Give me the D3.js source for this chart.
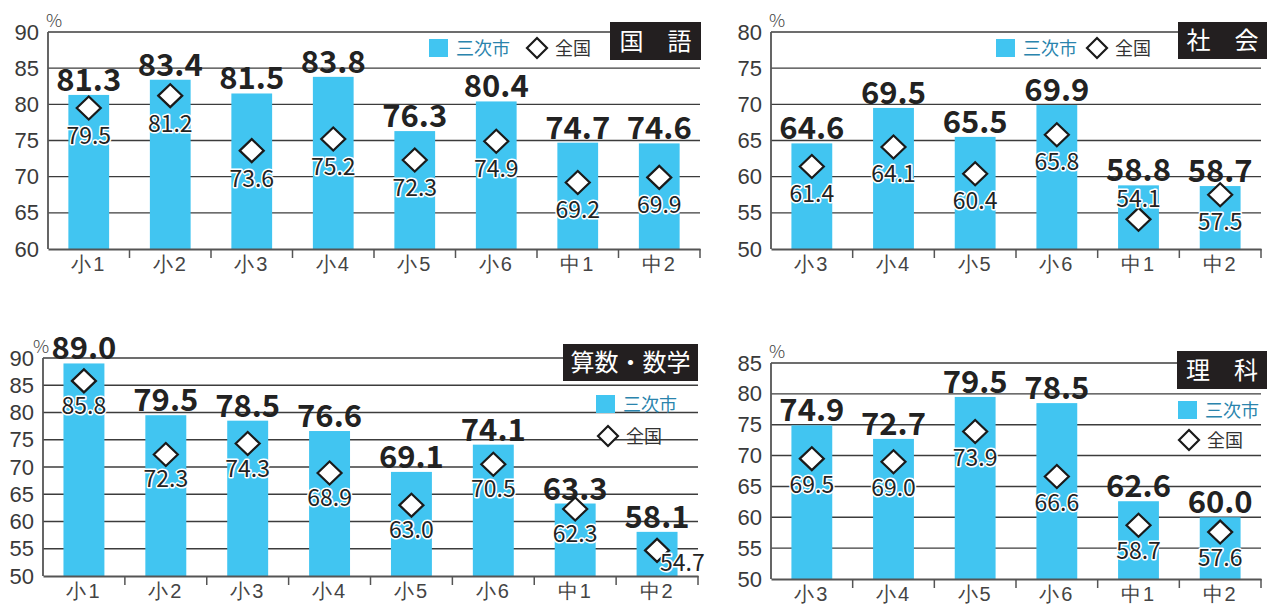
<html>
<head>
<meta charset="utf-8">
<script src="https://d3js.org/d3.v7.min.js"></script>
<style>
body { margin: 0; background: #fff; }
svg { font-family: "Noto Sans CJK JP", "Noto Sans", sans-serif; }
.ytick { font-size: 22px; fill: #3a3a3a; font-weight: 300; }
.xlab { font-size: 20px; fill: #444; font-weight: 300; letter-spacing: 2px; }
.val { font-size: 31px; font-weight: 700; fill: #222; }
.nat { font-size: 23px; fill: #222; stroke: #fff; stroke-width: 3px; paint-order: stroke; stroke-linejoin: round; }
.grid { stroke: #3c3c3c; stroke-width: 1.4; }
.title { font-size: 24px; fill: #fff; }
.leg-city { font-size: 18px; fill: #2a84ad; }
.leg-nat { font-size: 18px; fill: #333; }
</style>
</head>
<body>
<svg width="1268" height="606"></svg>
<script>
// categories
var catsAll = ["小1", "小2", "小3", "小4", "小5", "小6", "中1", "中2"];
var cats36 = ["小3", "小4", "小5", "小6", "中1", "中2"];

// 国語
var kokugoCity = [81.3, 83.4, 81.5, 83.8, 76.3, 80.4, 74.7, 74.6];
var kokugoNation = [79.5, 81.2, 73.6, 75.2, 72.3, 74.9, 69.2, 69.9];
var kokugoTicks = [60, 65, 70, 75, 80, 85, 90];

// 社会
var shakaiCity = [64.6, 69.5, 65.5, 69.9, 58.8, 58.7];
var shakaiNation = [61.4, 64.1, 60.4, 65.8, 54.1, 57.5];
var shakaiTicks = [50, 55, 60, 65, 70, 75, 80];

// 算数・数学
var sansuCity = [89.0, 79.5, 78.5, 76.6, 69.1, 74.1, 63.3, 58.1];
var sansuNation = [85.8, 72.3, 74.3, 68.9, 63.0, 70.5, 62.3, 54.7];
var sansuTicks = [50, 55, 60, 65, 70, 75, 80, 85, 90];

// 理科
var rikaCity = [74.9, 72.7, 79.5, 78.5, 62.6, 60.0];
var rikaNation = [69.5, 69.0, 73.9, 66.6, 58.7, 57.6];
var rikaTicks = [50, 55, 60, 65, 70, 75, 80, 85];

var svg = d3.select("svg");
var barColor = "#41c5f1";

function diamond(g, cx, cy, rx, ry) {
  g.append("path")
    .attr("d", "M" + (cx - rx) + "," + cy + "L" + cx + "," + (cy - ry) + "L" + (cx + rx) + "," + cy + "L" + cx + "," + (cy + ry) + "Z")
    .attr("fill", "#fff").attr("stroke", "#1a1a1a").attr("stroke-width", 2.2).attr("stroke-linejoin", "miter");
}

function drawPanel(p) {
  var g = svg.append("g");
  var x = d3.scaleBand().domain(p.cats).range([p.left, p.right]);
  var y = d3.scaleLinear().domain([p.ticks[0], p.ticks[p.ticks.length - 1]]).range([p.bottom, p.top]);

  // gridlines
  g.selectAll(".grid").data(p.ticks.slice(1)).enter().append("line")
    .attr("class", "grid")
    .attr("x1", p.left).attr("x2", p.right)
    .attr("y1", function (d) { return y(d); }).attr("y2", function (d) { return y(d); });

  // y axis labels
  var ya = g.append("g").attr("transform", "translate(" + p.left + ",0)")
    .call(d3.axisLeft(y).tickValues(p.ticks).tickSize(0).tickPadding(9));
  ya.select(".domain").remove();
  ya.selectAll("text").attr("class", "ytick").attr("font-family", null).attr("font-size", null).attr("fill", null);

  g.append("text").attr("x", p.pctX).attr("y", p.top - 5).attr("font-size", 18).attr("fill", "#444").attr("font-weight", 300).text("%");

  // bars
  var bw = x.bandwidth() * 0.5;
  g.selectAll(".bar").data(p.city).enter().append("rect")
    .attr("x", function (d, i) { return x(p.cats[i]) + (x.bandwidth() - bw) / 2; })
    .attr("width", bw)
    .attr("y", function (d) { return y(d); })
    .attr("height", function (d) { return p.bottom - y(d); })
    .attr("fill", barColor);

  // axes lines
  g.append("line").attr("x1", p.left).attr("x2", p.left).attr("y1", p.top).attr("y2", p.bottom)
    .attr("stroke", "#555").attr("stroke-width", 1.8);
  var xa = g.append("g").attr("transform", "translate(0," + p.bottom + ")")
    .call(d3.axisBottom(x).tickSize(0).tickPadding(8));
  xa.select(".domain").attr("stroke", "#555").attr("stroke-width", 1.8);
  xa.selectAll("text").attr("class", "xlab").attr("font-family", null).attr("font-size", null).attr("fill", null);
  var bounds = p.cats.slice(1).map(function (c) { return x(c); }).concat([p.right]);
  g.selectAll(".btick").data(bounds).enter().append("line")
    .attr("x1", function (d) { return d; }).attr("x2", function (d) { return d; })
    .attr("y1", p.bottom).attr("y2", p.bottom + 9)
    .attr("stroke", "#555").attr("stroke-width", 1.5);

  // city value labels (at the very top they sit on the bar edge)
  g.selectAll(".val").data(p.city).enter().append("text")
    .attr("class", "val").attr("text-anchor", "middle")
    .attr("x", function (d, i) { return x(p.cats[i]) + x.bandwidth() / 2; })
    .attr("y", function (d) { return y(d) - 4 < p.top ? y(d) : y(d) - 4; })
    .text(function (d) { return d.toFixed(1); });

  // national diamonds + labels
  p.nation.forEach(function (d, i) {
    var cx = x(p.cats[i]) + x.bandwidth() / 2, cy = y(d);
    diamond(g, cx, cy, 12, 11.5);
    var place = (p.natPlace && p.natPlace[p.cats[i]]) || "below";
    var t = g.append("text").attr("class", "nat").text(d.toFixed(1));
    if (place === "above") t.attr("x", cx).attr("y", cy - 12).attr("text-anchor", "middle");
    else if (place === "right") t.attr("x", cx + 3).attr("y", cy + 21).attr("text-anchor", "start");
    else t.attr("x", cx).attr("y", cy + p.natOff).attr("text-anchor", "middle");
  });

  // title box
  var tb = p.titleBox;
  g.append("rect").attr("x", tb[0]).attr("y", tb[1]).attr("width", tb[2]).attr("height", tb[3]).attr("fill", "#231f20");
  g.append("text").attr("class", "title").attr("text-anchor", "middle")
    .attr("x", tb[0] + tb[2] / 2).attr("y", tb[1] + tb[3] / 2 + 8.5).text(p.title);

  // legend
  var L = p.legend;
  g.append("rect").attr("x", L.sq[0]).attr("y", L.sq[1]).attr("width", 19).attr("height", 18).attr("fill", barColor);
  g.append("text").attr("class", "leg-city").attr("x", L.sq[0] + 27).attr("y", L.sq[1] + 15.5).text("三次市");
  diamond(g, L.dm[0], L.dm[1], 10, 10);
  g.append("text").attr("class", "leg-nat").attr("x", L.dm[0] + 18).attr("y", L.dm[1] + 6.5).text("全国");
}

drawPanel({ cats: catsAll, city: kokugoCity, nation: kokugoNation, ticks: kokugoTicks,
  left: 48, right: 700, top: 32, bottom: 249, natOff: 36, pctX: 46,
  title: "国　語", titleBox: [610, 22, 91, 38],
  legend: { sq: [429, 39], dm: [537, 48] } });

drawPanel({ cats: cats36, city: shakaiCity, nation: shakaiNation, ticks: shakaiTicks,
  left: 771, right: 1261, top: 32, bottom: 249, natOff: 35, pctX: 769,
  title: "社　会", titleBox: [1178, 22, 89, 37], natPlace: { "中1": "above" },
  legend: { sq: [996, 39], dm: [1097, 48] } });

drawPanel({ cats: catsAll, city: sansuCity, nation: sansuNation, ticks: sansuTicks,
  left: 43, right: 698, top: 358, bottom: 576, natOff: 33, pctX: 33,
  title: "算数・数学", titleBox: [563, 344, 135, 37], natPlace: { "中2": "right" },
  legend: { sq: [596, 395], dm: [608, 436] } });

drawPanel({ cats: cats36, city: rikaCity, nation: rikaNation, ticks: rikaTicks,
  left: 771, right: 1261, top: 363, bottom: 579, natOff: 34, pctX: 769,
  title: "理　科", titleBox: [1177, 351, 90, 38],
  legend: { sq: [1178, 401], dm: [1189, 440] } });
</script>
</body>
</html>
